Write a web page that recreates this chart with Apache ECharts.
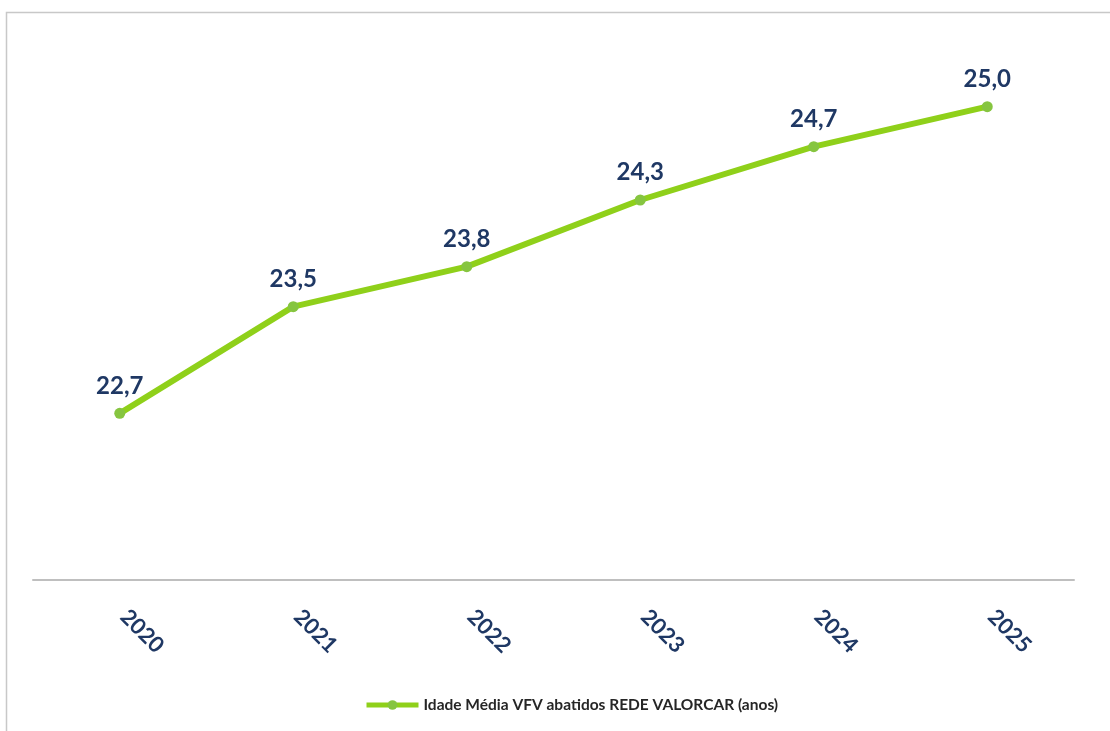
<!DOCTYPE html>
<html>
<head>
<meta charset="utf-8">
<script src="https://cdn.jsdelivr.net/npm/echarts@6/dist/echarts.min.js"></script>
<style>
  html, body { margin: 0; padding: 0; background: #ffffff; }
  #chart { width: 1110px; height: 731px; }
</style>
</head>
<body>
<div id="chart"></div>
<script>
// Average age of end-of-life vehicles processed by the VALORCAR network
const years = ['2020', '2021', '2022', '2023', '2024', '2025'];
const averageAge = [22.7, 23.5, 23.8, 24.3, 24.7, 25.0];
const seriesName = 'Idade Média VFV abatidos REDE VALORCAR (anos)';

const navy = '#1f3864';
const lineGreen = '#8fd01a';
const markerGreen = '#86c540';
const fontFamily = 'Lato, "Open Sans", sans-serif';

const fmt = v => v.toFixed(1).replace('.', ',');

const chart = echarts.init(document.getElementById('chart'), null, { renderer: 'canvas' });

chart.setOption({
  backgroundColor: '#ffffff',
  animation: false,
  graphic: [{
    type: 'rect',
    silent: true,
    shape: { x: 6.5, y: 12.5, width: 1200, height: 800 },
    style: { fill: 'none', stroke: '#c8c8c8', lineWidth: 1.5 }
  }],
  grid: { left: 33, right: 36, top: 40, bottom: 151, containLabel: false },
  xAxis: {
    type: 'category',
    data: years,
    boundaryGap: true,
    axisTick: { show: false },
    axisLine: { lineStyle: { color: '#bfbfbf', width: 2 } },
    axisLabel: {
      rotate: -45,
      align: 'left',
      verticalAlign: 'middle',
      margin: 29,
      padding: [0, 0, 0, 6],
      color: navy,
      fontFamily: fontFamily,
      fontWeight: 'bold',
      fontSize: 22
    }
  },
  yAxis: {
    type: 'value',
    min: 21.45,
    max: 25.5,
    show: false,
    splitLine: { show: false }
  },
  legend: {
    top: 692,
    left: 359,
    itemWidth: 52,
    itemHeight: 12,
    itemGap: 10,
    lineStyle: { width: 5 },
    textStyle: {
      color: '#262626',
      fontFamily: fontFamily,
      fontWeight: 'bold',
      fontSize: 15.5
    },
    data: [seriesName]
  },
  series: [{
    name: seriesName,
    type: 'line',
    data: averageAge,
    symbol: 'circle',
    symbolSize: 11,
    lineStyle: { color: lineGreen, width: 6 },
    itemStyle: { color: markerGreen },
    label: {
      show: true,
      position: 'top',
      distance: 10,
      formatter: p => fmt(p.value),
      color: navy,
      fontFamily: fontFamily,
      fontWeight: 'bold',
      fontSize: 24
    }
  }]
});
</script>
</body>
</html>
